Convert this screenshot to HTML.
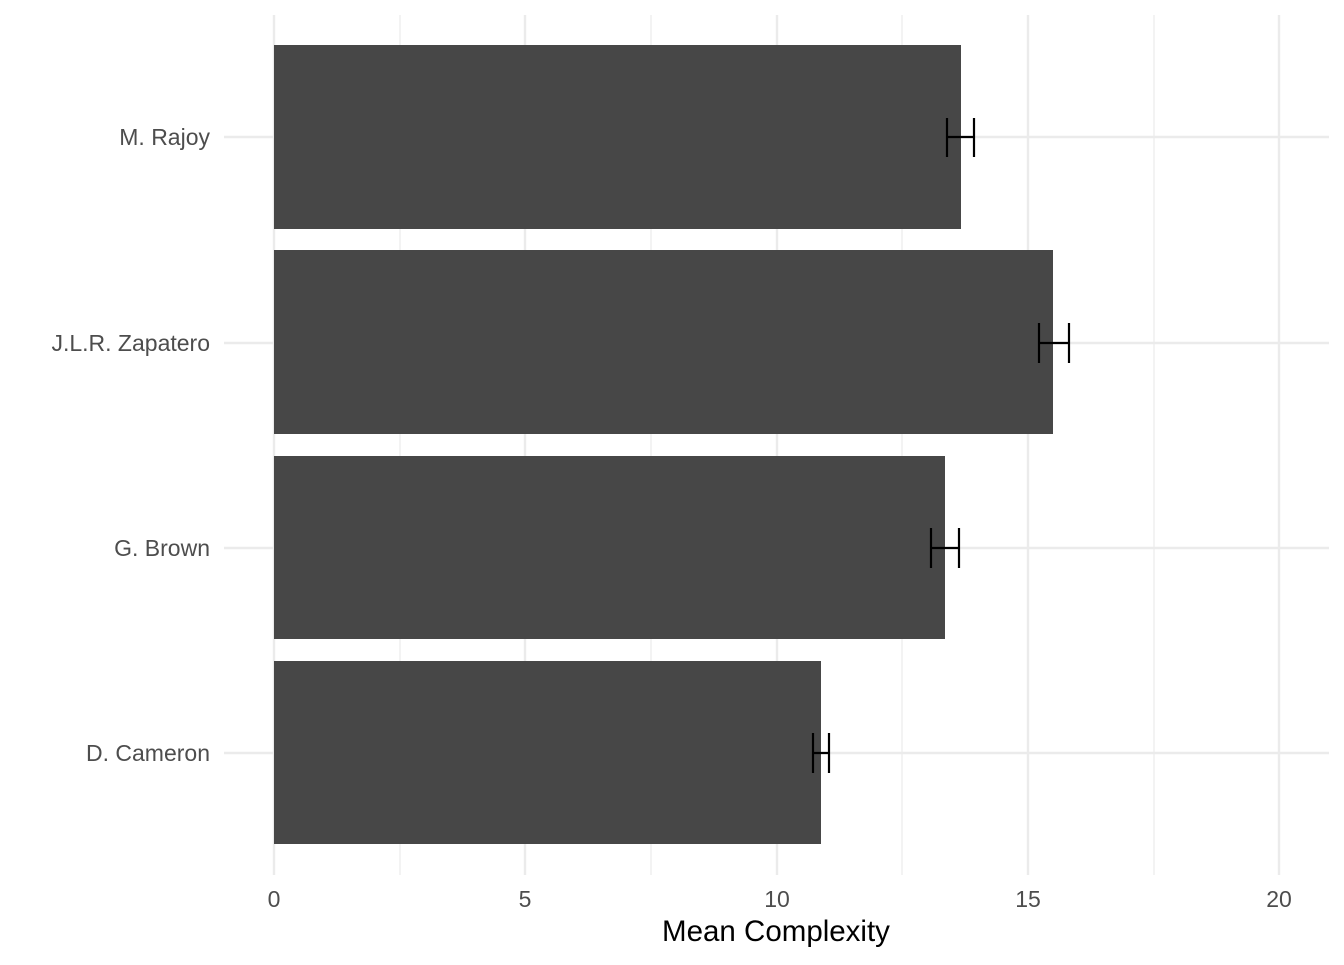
<!DOCTYPE html>
<html><head><meta charset="utf-8"><style>body{margin:0;background:#fff}</style></head><body>
<svg width="1344" height="960" xmlns="http://www.w3.org/2000/svg" font-family="Liberation Sans, sans-serif">
<rect width="1344" height="960" fill="#fff"/>
<g stroke="#ebebeb" stroke-width="1.2">
<line x1="400" y1="15" x2="400" y2="875"/><line x1="651" y1="15" x2="651" y2="875"/><line x1="902" y1="15" x2="902" y2="875"/><line x1="1154" y1="15" x2="1154" y2="875"/>
</g>
<g stroke="#ebebeb" stroke-width="2.4">
<line x1="274" y1="15" x2="274" y2="875"/><line x1="525" y1="15" x2="525" y2="875"/><line x1="777" y1="15" x2="777" y2="875"/><line x1="1028" y1="15" x2="1028" y2="875"/><line x1="1279" y1="15" x2="1279" y2="875"/>
<line x1="224" y1="137" x2="1329" y2="137"/><line x1="224" y1="343" x2="1329" y2="343"/><line x1="224" y1="548" x2="1329" y2="548"/><line x1="224" y1="753" x2="1329" y2="753"/>
</g>
<g fill="#474747">
<rect x="274" y="45" width="687" height="184"/>
<rect x="274" y="250" width="779" height="184"/>
<rect x="274" y="456" width="671" height="183"/>
<rect x="274" y="661" width="547" height="183"/>
</g>
<g stroke="#000" stroke-width="2.2" fill="none">
<path d="M947 118V157M974 118V157M947 137H974"/>
<path d="M1039 323V363M1069 323V363M1039 343H1069"/>
<path d="M931 528V568M959 528V568M931 548H959"/>
<path d="M813 733V773M829 733V773M813 753H829"/>
</g>
<g fill="#4d4d4d" font-size="23" text-anchor="end">
<text x="210" y="145">M. Rajoy</text>
<text x="210" y="351">J.L.R. Zapatero</text>
<text x="210" y="556">G. Brown</text>
<text x="210" y="761">D. Cameron</text>
</g>
<g fill="#4d4d4d" font-size="23" text-anchor="middle">
<text x="274" y="907">0</text><text x="525" y="907">5</text><text x="777" y="907">10</text><text x="1028" y="907">15</text><text x="1279" y="907">20</text>
</g>
<text x="776" y="941" font-size="29.5" text-anchor="middle" fill="#000">Mean Complexity</text>
</svg>
</body></html>
